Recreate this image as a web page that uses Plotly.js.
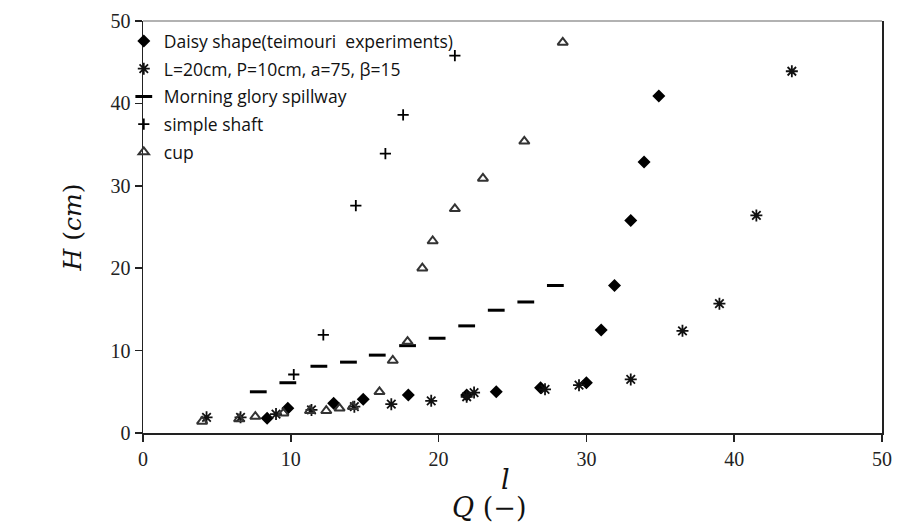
<!DOCTYPE html>
<html>
<head>
<meta charset="utf-8">
<script src="https://cdn.plot.ly/plotly-3.0.1.min.js"></script>
<style>html,body{margin:0;padding:0;background:#fff;}#chart{width:897px;height:527px;}</style>
</head>
<body>
<div id="chart"></div>
<script>
// Daisy shape (teimouri experiments)
const daisyQ = [8.4, 9.8, 12.9, 14.9, 17.95, 21.9, 23.9, 26.9, 30.0, 31.0, 31.9, 33.0, 33.9, 34.9];
const daisyH = [1.8, 3.0, 3.6, 4.1, 4.6, 4.6, 5.0, 5.5, 6.1, 12.5, 17.9, 25.8, 32.9, 40.9];
// L=20cm, P=10cm, a=75, beta=15
const starQ = [4.3, 6.6, 9.0, 11.4, 14.3, 16.8, 19.5, 21.9, 22.4, 27.2, 29.5, 33.0, 36.5, 39.0, 41.5, 43.9];
const starH = [1.9, 1.9, 2.3, 2.8, 3.2, 3.5, 3.9, 4.4, 4.9, 5.3, 5.8, 6.5, 12.4, 15.7, 26.4, 43.9];
// Morning glory spillway
const mgQ = [7.8, 9.8, 11.9, 13.9, 15.85, 17.9, 19.9, 21.9, 23.9, 25.9, 27.9];
const mgH = [5.0, 6.1, 8.1, 8.6, 9.45, 10.6, 11.5, 13.0, 14.9, 15.9, 17.9];
// simple shaft
const shaftQ = [10.2, 12.2, 14.4, 16.4, 17.6, 21.1];
const shaftH = [7.1, 11.9, 27.6, 33.9, 38.6, 45.8];
// cup
const cupQ = [4.0, 6.5, 7.6, 9.5, 11.3, 12.4, 13.3, 14.2, 16.0, 16.9, 17.9, 18.9, 19.6, 21.1, 23.0, 25.8, 28.4];
const cupH = [1.4, 1.7, 2.0, 2.4, 2.7, 2.7, 3.0, 3.2, 5.0, 8.8, 11.1, 20.0, 23.3, 27.2, 30.9, 35.4, 47.4];

const names = ['Daisy shape(teimouri  experiments)', 'L=20cm, P=10cm, a=75, β=15', 'Morning glory spillway', 'simple shaft', 'cup'];
const xTicks = [0, 10, 20, 30, 40, 50];
const yTicks = [0, 10, 20, 30, 40, 50];

function tr(x, y, name, symbol, size, color, lw, g) {
  return {
    x: x, y: y, name: name, type: 'scatter', mode: 'markers', legendgroup: g,
    marker: {symbol: symbol, size: size, color: color, line: {color: color, width: lw}}
  };
}

const data = [
  tr(daisyQ, daisyH, names[0], 'diamond', 10, '#000', 0, 'a'),
  tr(starQ, starH, names[1], 'asterisk-open', 10, '#111', 1.8, 'b'),
  tr(mgQ, mgH, names[2], 'line-ew-open', 12, '#000', 3, 'c'),
  tr(shaftQ, shaftH, names[3], 'cross-thin-open', 8, '#000', 1.8, 'd'),
  tr(cupQ, cupH, names[4], 'triangle-up-open', 9, '#333', 2, 'e')
];

const layout = {
  width: 897, height: 527,
  margin: {l: 143, r: 15, t: 21, b: 94},
  paper_bgcolor: '#fff', plot_bgcolor: '#fff',
  showlegend: true,
  legend: {
    x: -0.026, y: 0.995, xanchor: 'left', yanchor: 'top',
    bgcolor: 'rgba(0,0,0,0)', traceorder: 'grouped', tracegroupgap: 2,
    font: {family: '"Open Sans", Lato, sans-serif', size: 17.5, color: '#111'}
  },
  xaxis: {
    range: [0, 50], tickvals: xTicks, ticktext: xTicks.map(String),
    showgrid: false, zeroline: false, showline: true, linecolor: '#222', linewidth: 1.5,
    ticks: 'outside', ticklen: 7, tickwidth: 1.5, tickcolor: '#222',
    tickfont: {family: '"Liberation Serif", "Times New Roman", serif', size: 20, color: '#222'},
    fixedrange: true
  },
  yaxis: {
    range: [0, 50], tickvals: yTicks, ticktext: yTicks.map(String),
    showgrid: false, zeroline: false, showline: true, linecolor: '#222', linewidth: 1.5,
    mirror: true,
    ticks: 'outside', ticklen: 7, tickwidth: 1.5, tickcolor: '#222',
    tickfont: {family: '"Liberation Serif", "Times New Roman", serif', size: 20, color: '#222'},
    title: {text: '<i>H</i> (<i>cm</i>)', standoff: 22,
      font: {family: '"DejaVu Serif", "Liberation Serif", serif', size: 25, color: '#111'}},
    fixedrange: true
  },
  shapes: [
    {type: 'line', xref: 'paper', yref: 'paper', x0: 0, x1: 1, y0: 1, y1: 1,
     line: {color: '#999', width: 1.5}}
  ],
  annotations: [
    {xref: 'paper', yref: 'paper', x: 0.468, y: -0.182, xanchor: 'center', yanchor: 'middle',
     text: '<i>Q</i> (−)', showarrow: false,
     font: {family: '"DejaVu Serif", "Liberation Serif", serif', size: 27, color: '#111'}},
    {xref: 'paper', yref: 'paper', x: 0.49, y: -0.112, xanchor: 'center', yanchor: 'middle',
     text: '<i>l</i>', showarrow: false,
     font: {family: '"DejaVu Serif", "Liberation Serif", serif', size: 27, color: '#111'}}
  ]
};

Plotly.newPlot('chart', data, layout, {displayModeBar: false, staticPlot: true});
</script>
</body>
</html>
